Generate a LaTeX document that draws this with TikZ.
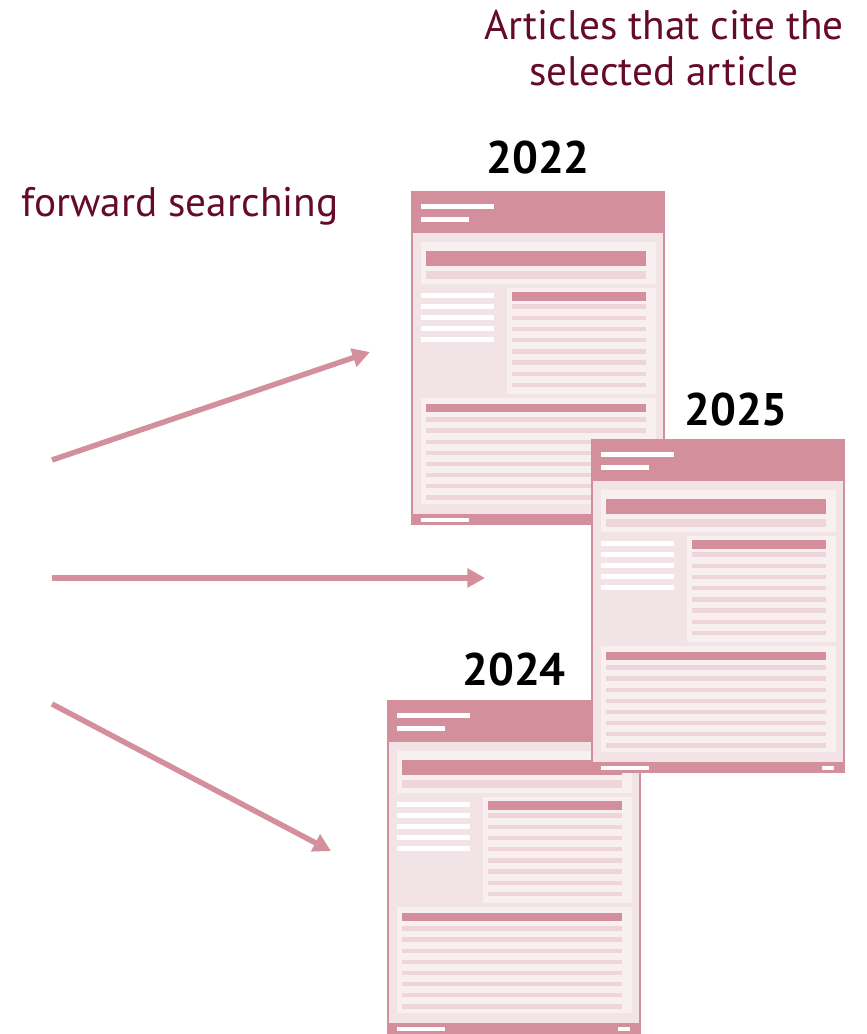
\documentclass[tikz,border=0pt]{standalone}
\usepackage{fontspec}
\setmainfont{PT Sans}
\usetikzlibrary{arrows.meta}

\definecolor{pagepink}{HTML}{D48F9C}
\definecolor{bodypink}{HTML}{F2E3E6}
\definecolor{boxpink}{HTML}{F8EFF0}
\definecolor{linepink}{HTML}{EED5DA}
\definecolor{maroon}{HTML}{650A2A}

\tikzset{
  searcharrow/.style={draw=pagepink,line width=3.1pt,-{Triangle[length=10pt,width=10.5pt]}},
  yearlabel/.style={font=\bfseries\fontsize{26}{30}\selectfont,text=black},
  caption/.style={font=\fontsize{23.5}{26.5}\selectfont,text=maroon,align=center},
  % one article page, drawn from its top left corner
  article/.pic={
    \fill[pagepink] (0,0) rectangle (254,334);
    \fill[bodypink] (2,42) rectangle (252,323);
    % header lines
    \fill[white] (10,13) rectangle (83,18);
    \fill[white] (10,26) rectangle (58,30.5);
    % title box
    \fill[boxpink] (10,51) rectangle (245,93);
    \fill[pagepink] (15,60) rectangle (235,75);
    \fill[linepink] (15,80) rectangle (235,88);
    % left column
    \foreach \i in {0,...,4}
      \fill[white] (10,102+11*\i) rectangle (83,106.5+11*\i);
    % right box
    \fill[boxpink] (96,97) rectangle (245,203);
    \fill[pagepink] (101,101) rectangle (235,110);
    \foreach \i in {0,...,7}
      \fill[linepink] (101,113.3+11.2*\i) rectangle (235,117.8+11.2*\i);
    % bottom box
    \fill[boxpink] (10,207) rectangle (245,313);
    \fill[pagepink] (15,213) rectangle (235,221);
    \foreach \i in {0,...,7}
      \fill[linepink] (15,226.3+11.1*\i) rectangle (235,230.8+11.1*\i);
    % footer
    \fill[white] (10,327) rectangle (58,331);
    \fill[white] (231,327) rectangle (243,331);
  }
}

\begin{document}
\begin{tikzpicture}[x=0.02cm,y=-0.02cm]
\useasboundingbox (0,0) rectangle (866,1034);

% texts
\node[caption] (cited) at (664,48) {Articles that cite the\\selected article};
\node[caption] (forward) at (180,206) {forward searching};

% pages, the 2025 one on top
\pic (p2022) at (411,191) {article};
\pic (p2024) at (387,700) {article};
\pic (p2025) at (591,439) {article};

\node[yearlabel] (y2022) at (538,158) {2022};
\node[yearlabel] (y2025) at (736,410) {2025};
\node[yearlabel] (y2024) at (514,670) {2024};

% arrows
\coordinate (from1) at (52,460);
\coordinate (to1)   at (370,352);
\coordinate (from2) at (52,578);
\coordinate (to2)   at (485,578);
\coordinate (from3) at (52,704);
\coordinate (to3)   at (331,851);
\draw[searcharrow] (from1) -- (to1);
\draw[searcharrow] (from2) -- (to2);
\draw[searcharrow] (from3) -- (to3);
\end{tikzpicture}
\end{document}
